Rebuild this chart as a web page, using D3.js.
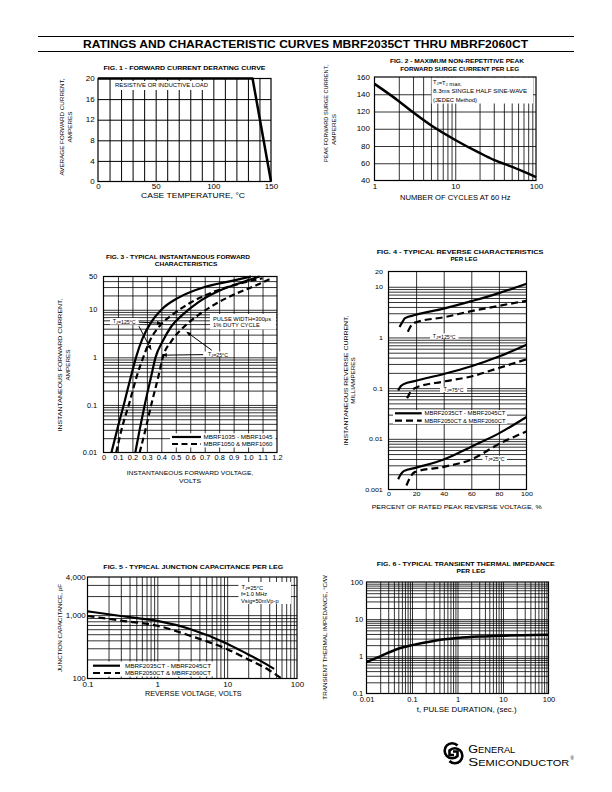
<!DOCTYPE html>
<html><head><meta charset="utf-8">
<script src="https://cdn.jsdelivr.net/npm/d3@7/dist/d3.min.js"></script>
<style>
body{margin:0;background:#fff}
svg{display:block}
text{font-family:'Liberation Sans',Arial,Helvetica,sans-serif;fill:#000}
</style>
</head><body>
<svg id="c" width="612" height="792"></svg>
<script>
// ================= DATA =================
const pageTitle = "RATINGS AND CHARACTERISTIC CURVES MBRF2035CT THRU MBRF2060CT";

// Fig 1 - forward current derating
const fig1Temp = [0, 134, 150];
const fig1Current = [20, 20, 0];
const fig1XTicks = [0, 50, 100, 150];
const fig1YTicks = [0, 4, 8, 12, 16, 20];
const fig1XGrid = [10, 20, 30, 40, 50, 60, 70, 80, 90, 100, 110, 120, 130, 140];

// Fig 2 - surge current
const fig2Cycles = [1, 2, 3, 5, 10, 20, 30, 50, 100];
const fig2Amps = [152, 132, 119, 104, 87, 72, 64, 56, 44];
const fig2XTicks = [1, 10, 100];
const fig2YTicks = [40, 60, 80, 100, 120, 140, 160];

// Fig 3 - forward characteristics (volts, amps)
const fig3V125Solid = [0.055, 0.10, 0.14, 0.19, 0.225, 0.27, 0.33, 0.40, 0.52, 0.70, 0.88, 1.02];
const fig3I125Solid = [0.01, 0.035, 0.1, 0.4, 1, 2.5, 5.5, 10, 18, 30, 40, 50];
const fig3V125Dash  = [0.088, 0.13, 0.175, 0.23, 0.275, 0.32, 0.40, 0.48, 0.60, 0.78, 0.95, 1.10];
const fig3I125Dash  = [0.01, 0.035, 0.1, 0.4, 1, 2.2, 5, 8, 14, 25, 36, 46];
const fig3V25Solid  = [0.22, 0.25, 0.285, 0.33, 0.36, 0.41, 0.47, 0.55, 0.65, 0.80, 0.96, 1.08];
const fig3I25Solid  = [0.01, 0.03, 0.1, 0.4, 1, 2.2, 4.5, 8, 14, 25, 38, 50];
const fig3V25Dash   = [0.25, 0.29, 0.33, 0.38, 0.41, 0.47, 0.55, 0.65, 0.77, 0.92, 1.06, 1.15];
const fig3I25Dash   = [0.01, 0.03, 0.1, 0.4, 1, 2.2, 4.2, 7.5, 13, 22, 33, 44];
const fig3XTicks = [0, 0.1, 0.2, 0.3, 0.4, 0.5, 0.6, 0.7, 0.8, 0.9, 1.0, 1.1, 1.2];
const fig3YTicks = [0.01, 0.1, 1, 10, 50];

// Fig 4 - reverse characteristics (% rated voltage, mA)
const fig4P125Solid = [8, 10, 12, 20, 40, 60, 80, 100];
const fig4I125Solid = [1.6, 2.0, 2.4, 2.8, 3.7, 5.2, 7.5, 11.5];
const fig4P125Dash  = [14, 17, 20, 40, 60, 80, 100];
const fig4I125Dash  = [1.3, 1.8, 2.0, 2.5, 3.3, 4.2, 5.3];
const fig4P75Solid  = [7, 9, 11, 20, 40, 60, 80, 100];
const fig4I75Solid  = [0.09, 0.11, 0.12, 0.14, 0.19, 0.27, 0.42, 0.72];
const fig4P75Dash   = [13.5, 16, 19, 40, 60, 80, 100];
const fig4I75Dash   = [0.063, 0.085, 0.1, 0.135, 0.17, 0.25, 0.37];
const fig4P25Solid  = [7, 9, 11, 20, 40, 60, 80, 100];
const fig4I25Solid  = [0.0016, 0.002, 0.0023, 0.0027, 0.0039, 0.007, 0.0128, 0.027];
const fig4P25Dash   = [13, 16, 19, 40, 60, 80, 100];
const fig4I25Dash   = [0.0012, 0.0018, 0.0022, 0.0028, 0.0039, 0.0079, 0.014];
const fig4XTicks = [0, 20, 40, 60, 80, 100];
const fig4YTicks = [0.001, 0.01, 0.1, 1, 10, 20];

// Fig 5 - junction capacitance (V, pF)
const fig5VSolid = [0.1, 0.3, 1, 3, 10, 20, 30, 47];
const fig5CSolid = [1150, 970, 810, 600, 355, 240, 190, 142];
const fig5VDash  = [0.1, 0.3, 1, 3, 10, 20, 40, 60];
const fig5CDash  = [970, 820, 680, 470, 290, 200, 135, 100];
const fig5XTicks = [0.1, 1, 10, 100];
const fig5YTicks = [100, 1000, 4000];

// Fig 6 - transient thermal impedance (s, °C/W)
const fig6Time = [0.01, 0.02, 0.05, 0.1, 0.3, 1, 3, 10, 30, 100];
const fig6Z    = [0.7, 1.0, 1.6, 2.0, 2.6, 3.1, 3.4, 3.6, 3.7, 3.8];
const fig6XTicks = [0.01, 0.1, 1, 10, 100];
const fig6YTicks = [0.1, 1, 10, 100];

// ================= DRAWING =================
const svg = d3.select('#c');
const SX = 1.14;
const zip = (a, b) => a.map((v, i) => [v, b[i]]);

function T(parent, x, y, parts, o = {}) {
  const size = o.size ?? 6;
  const t = parent.append('text')
    .attr('font-size', size)
    .attr('font-weight', o.bold ? 'bold' : null)
    .attr('text-anchor', o.anchor ?? 'middle')
    .attr('dy', '0.35em');
  if (typeof parts === 'string') t.text(parts);
  else parts.forEach(p => {
    if (typeof p === 'string') t.append('tspan').text(p);
    else { t.append('tspan').attr('font-size', size * 0.72).attr('dy', size * 0.22).text(p.sub);
           t.append('tspan').attr('dy', -size * 0.22).text(''); }
  });
  let tr = `translate(${x},${y})` + (o.rot ? ` rotate(${o.rot})` : '');
  if (o.w) t.attr('textLength', o.w).attr('lengthAdjust', 'spacingAndGlyphs');
  else tr += ` scale(${o.sx ?? SX},1)`;
  t.attr('transform', tr);
  return t;
}

function whiteBox(parent, x0, y0, x1, y1) {
  parent.append('rect').attr('x', x0).attr('y', y0).attr('width', x1 - x0).attr('height', y1 - y0).attr('fill', '#fff');
}

function panel(L, xs, ys, opt) {
  const g = svg.append('g');
  const styleGrid = s => { s.select('.domain').remove(); s.selectAll('line').attr('stroke', '#000').attr('stroke-width', opt.gw ?? 0.8); };
  g.append('g').attr('transform', `translate(0,${L.b})`)
    .call(d3.axisBottom(xs).tickValues(opt.xGrid).tickSize(-(L.b - L.t)).tickFormat(''))
    .call(styleGrid);
  g.append('g').attr('transform', `translate(${L.l},0)`)
    .call(d3.axisLeft(ys).tickValues(opt.yGrid).tickSize(-(L.r - L.l)).tickFormat(''))
    .call(styleGrid);
  const ann = g.append('g');
  const marks = g.append('g');
  g.append('rect').attr('x', L.l).attr('y', L.t).attr('width', L.r - L.l).attr('height', L.b - L.t)
    .attr('fill', 'none').attr('stroke', '#000').attr('stroke-width', 1.2);
  const styleLab = s => {
    s.select('.domain').remove();
    s.attr('font-family', null).attr('font-size', opt.fs ?? 7);
    s.selectAll('text').attr('transform', `scale(${SX},1)`).attr('fill', '#000');
  };
  g.append('g').attr('transform', `translate(0,${L.b})`)
    .call(d3.axisBottom(xs).tickValues(opt.xTicks).tickSize(0).tickPadding(opt.xPad ?? 3).tickFormat(opt.xFmt))
    .call(styleLab);
  g.append('g').attr('transform', `translate(${L.l},0)`)
    .call(d3.axisLeft(ys).tickValues(opt.yTicks).tickSize(0).tickPadding(opt.yPad ?? 3).tickFormat(opt.yFmt))
    .call(styleLab);
  const top = g.append('g');
  return { g, ann, marks, top };
}

function curve(sel, xs, ys, pts, o = {}) {
  sel.append('path')
    .attr('d', d3.line().x(d => xs(d[0])).y(d => ys(d[1])).curve(o.curve ?? d3.curveMonotoneX)(pts))
    .attr('fill', 'none').attr('stroke', '#000')
    .attr('stroke-width', o.w ?? 2.2)
    .attr('stroke-dasharray', o.dash ?? null)
    .attr('stroke-linejoin', 'round');
}

// arrow marker
svg.append('defs').append('marker').attr('id', 'ah').attr('viewBox', '0 0 10 10')
  .attr('refX', 9).attr('refY', 5).attr('markerWidth', 5).attr('markerHeight', 5)
  .attr('markerUnits', 'userSpaceOnUse').attr('orient', 'auto')
  .append('path').attr('d', 'M0,1 L10,5 L0,9 z').attr('fill', '#000');

// ---------- page header ----------
svg.append('line').attr('x1', 38).attr('x2', 574).attr('y1', 36.5).attr('y2', 36.5).attr('stroke', '#000').attr('stroke-width', 1.2);
svg.append('line').attr('x1', 38).attr('x2', 574).attr('y1', 51.5).attr('y2', 51.5).attr('stroke', '#000').attr('stroke-width', 1.2);
T(svg, 305.5, 44, pageTitle, { size: 10.5, bold: true, w: 445 });

const fmtDefault = d3.format('');
const fmtTrim = d => String(+d.toFixed(4));

// ---------- FIG 1 ----------
{
  const L = { l: 98, r: 271, t: 78.5, b: 181.5 };
  const xs = d3.scaleLinear().domain([0, 150]).range([L.l, L.r]);
  const ys = d3.scaleLinear().domain([0, 20]).range([L.b, L.t]);
  const p = panel(L, xs, ys, { xGrid: fig1XGrid, yGrid: fig1YTicks.slice(1, -1), xTicks: fig1XTicks, yTicks: fig1YTicks,
    xFmt: fmtDefault, yFmt: fmtDefault, fs: 7, xPad: 3, yPad: 3, gw: 1 });
  whiteBox(p.ann, 113, 81, 210, 90);
  T(p.ann, 161.5, 85.5, 'RESISTIVE OR INDUCTIVE LOAD', { size: 5.3, w: 93 });
  curve(p.top, xs, ys, zip(fig1Temp, fig1Current), { curve: d3.curveLinear, w: 2.5 });
  T(svg, 184.5, 68, 'FIG. 1 - FORWARD CURRENT DERATING CURVE', { size: 6, bold: true, w: 162 });
  T(svg, 193, 196, 'CASE TEMPERATURE, °C', { size: 6.3, w: 104 });
  T(svg, 62, 127, 'AVERAGE FORWARD CURRENT,', { size: 6, rot: -90, w: 97 });
  T(svg, 70, 127, 'AMPERES', { size: 6, rot: -90, sx: 1.05 });
}

// ---------- FIG 2 ----------
{
  const L = { l: 374.5, r: 536, t: 77, b: 180.5 };
  const xs = d3.scaleLog().domain([1, 100]).range([L.l, L.r]);
  const ys = d3.scaleLinear().domain([40, 160]).range([L.b, L.t]);
  const xg = xs.ticks().filter(v => v > 1 && v < 100);
  const p = panel(L, xs, ys, { xGrid: xg, yGrid: fig2YTicks.slice(1, -1), xTicks: fig2XTicks, yTicks: fig2YTicks,
    xFmt: fmtDefault, yFmt: fmtDefault, fs: 7, xPad: 4, yPad: 4 });
  whiteBox(p.ann, 431.5, 77.5, 533, 103.5);
  T(p.ann, 433, 82, ['T', { sub: 'J' }, '=T', { sub: 'J' }, ' max.'], { size: 5.3, anchor: 'start', sx: 1.1 });
  T(p.ann, 433, 91.3, '8.3ms SINGLE HALF SINE-WAVE', { size: 5.3, anchor: 'start', w: 94 });
  T(p.ann, 433, 99.7, '(JEDEC Method)', { size: 5.3, anchor: 'start', sx: 1.1 });
  curve(p.marks, xs, ys, zip(fig2Cycles, fig2Amps), { w: 2.5 });
  T(svg, 457, 61.3, 'FIG. 2 - MAXIMUM NON-REPETITIVE PEAK', { size: 6, bold: true, w: 134 });
  T(svg, 459.7, 68.7, 'FORWARD SURGE CURRENT PER LEG', { size: 6, bold: true, w: 119 });
  T(svg, 455.3, 198, 'NUMBER OF CYCLES AT 60 Hz', { size: 6.3, w: 110.7 });
  T(svg, 326, 113.5, 'PEAK FORWARD SURGE CURRENT,', { size: 6, rot: -90, w: 97 });
  T(svg, 334, 129.5, 'AMPERES', { size: 6, rot: -90, sx: 1.05 });
}

// ---------- FIG 3 ----------
{
  const L = { l: 103.5, r: 277, t: 276.5, b: 452.5 };
  const xs = d3.scaleLinear().domain([0, 1.2]).range([L.l, L.r]);
  const ys = d3.scaleLog().domain([0.01, 50]).range([L.b, L.t]);
  const yg = ys.ticks().filter(v => v > 0.01 && v < 50);
  const p = panel(L, xs, ys, { xGrid: fig3XTicks.slice(1, -1), yGrid: yg, xTicks: fig3XTicks, yTicks: fig3YTicks,
    xFmt: d => d === 0 ? '0' : d3.format('.1f')(d), yFmt: fmtTrim, fs: 6.5, xPad: 3, yPad: 5.5 });
  // annotation boxes
  whiteBox(p.top, 210, 314, 276, 329.5);
  T(p.top, 213, 318.7, 'PULSE WIDTH=300μs', { size: 5.2, anchor: 'start', w: 58 });
  T(p.top, 213, 325.5, '1% DUTY CYCLE', { size: 5.2, anchor: 'start', sx: 1.12 });
  whiteBox(p.top, 110, 318, 138.5, 324.5);
  T(p.top, 124.2, 321.3, ['T', { sub: 'J' }, '=125°C'], { size: 5, sx: 1.05 });
  whiteBox(p.top, 203.5, 351.5, 233, 357);
  T(p.top, 218, 354.2, ['T', { sub: 'J' }, '=25°C'], { size: 5, sx: 1.05 });
  whiteBox(p.top, 170, 433.3, 275.5, 447.5);
  p.top.append('line').attr('x1', 172).attr('x2', 201).attr('y1', 437).attr('y2', 437).attr('stroke', '#000').attr('stroke-width', 2.2);
  p.top.append('line').attr('x1', 172).attr('x2', 201).attr('y1', 444).attr('y2', 444).attr('stroke', '#000').attr('stroke-width', 2.2).attr('stroke-dasharray', '6,3.5');
  T(p.top, 203.5, 437, 'MBRF1035 - MBRF1045', { size: 5.2, anchor: 'start', w: 69 });
  T(p.top, 203.5, 444, 'MBRF1050 & MBRF1060', { size: 5.2, anchor: 'start', w: 69 });
  // curves
  curve(p.marks, xs, ys, zip(fig3V125Solid, fig3I125Solid));
  curve(p.marks, xs, ys, zip(fig3V125Dash, fig3I125Dash), { dash: '6,3.5' });
  curve(p.marks, xs, ys, zip(fig3V25Solid, fig3I25Solid));
  curve(p.marks, xs, ys, zip(fig3V25Dash, fig3I25Dash), { dash: '6,3.5' });
  // arrows (data units)
  const arrows = [[[0.245, 5.5], [0.40, 5.2]], [[0.245, 4.5], [0.329, 1.46]], [[0.689, 1.14], [0.407, 1.11]], [[0.749, 1.41], [0.576, 3.4]]];
  arrows.forEach(([a, b]) => p.top.append('line').attr('x1', xs(a[0])).attr('y1', ys(a[1])).attr('x2', xs(b[0])).attr('y2', ys(b[1]))
    .attr('stroke', '#000').attr('stroke-width', 1).attr('marker-end', 'url(#ah)'));
  T(svg, 178, 257.3, 'FIG. 3 - TYPICAL INSTANTANEOUS FORWARD', { size: 6, bold: true, w: 144 });
  T(svg, 186, 264, 'CHARACTERISTICS', { size: 6, bold: true, w: 62.7 });
  T(svg, 190, 472.7, 'INSTANTANEOUS FORWARD VOLTAGE,', { size: 6, w: 126.7 });
  T(svg, 190, 480.5, 'VOLTS', { size: 6, sx: 1.14 });
  T(svg, 60, 365, 'INSTANTANEOUS FORWARD CURRENT,', { size: 6, rot: -90, w: 133 });
  T(svg, 68, 365, 'AMPERES', { size: 6, rot: -90, sx: 1.05 });
}

// ---------- FIG 4 ----------
{
  const L = { l: 388.5, r: 526.5, t: 271.5, b: 489.5 };
  const xs = d3.scaleLinear().domain([0, 100]).range([L.l, L.r]);
  const ys = d3.scaleLog().domain([0.001, 20]).range([L.b, L.t]);
  const yg = ys.ticks().filter(v => v > 0.001 && v < 20);
  const p = panel(L, xs, ys, { xGrid: fig4XTicks.slice(1, -1), yGrid: yg, xTicks: fig4XTicks, yTicks: fig4YTicks,
    xFmt: fmtDefault, yFmt: fmtTrim, fs: 6.2, xPad: 2.5, yPad: 5 });
  whiteBox(p.ann, 430, 333.3, 458.5, 339);
  T(p.ann, 444.2, 336.2, ['T', { sub: 'J' }, '=125°C'], { size: 5, sx: 1.05 });
  whiteBox(p.ann, 440, 386.7, 467, 392);
  T(p.ann, 453.5, 389.3, ['T', { sub: 'J' }, '=75°C'], { size: 5, sx: 1.05 });
  whiteBox(p.ann, 482.5, 455.7, 507, 461);
  T(p.ann, 494.7, 458.3, ['T', { sub: 'J' }, '=25°C'], { size: 5, sx: 1.05 });
  whiteBox(p.ann, 393, 410, 507, 424);
  p.ann.append('line').attr('x1', 395).attr('x2', 421.7).attr('y1', 413.3).attr('y2', 413.3).attr('stroke', '#000').attr('stroke-width', 2.2);
  p.ann.append('line').attr('x1', 395).attr('x2', 421.7).attr('y1', 420.7).attr('y2', 420.7).attr('stroke', '#000').attr('stroke-width', 2.2).attr('stroke-dasharray', '7,4');
  T(p.ann, 424.5, 413.3, 'MBRF2035CT - MBRF2045CT', { size: 5.2, anchor: 'start', w: 81 });
  T(p.ann, 424.5, 420.7, 'MBRF2050CT & MBRF2060CT', { size: 5.2, anchor: 'start', w: 81 });
  curve(p.marks, xs, ys, zip(fig4P125Solid, fig4I125Solid));
  curve(p.marks, xs, ys, zip(fig4P125Dash, fig4I125Dash), { dash: '7,4' });
  curve(p.marks, xs, ys, zip(fig4P75Solid, fig4I75Solid));
  curve(p.marks, xs, ys, zip(fig4P75Dash, fig4I75Dash), { dash: '7,4' });
  curve(p.marks, xs, ys, zip(fig4P25Solid, fig4I25Solid));
  curve(p.marks, xs, ys, zip(fig4P25Dash, fig4I25Dash), { dash: '7,4' });
  T(svg, 460, 252.3, 'FIG. 4 - TYPICAL REVERSE CHARACTERISTICS', { size: 6, bold: true, w: 166.7 });
  T(svg, 464, 259, 'PER LEG', { size: 6, bold: true, w: 27 });
  T(svg, 456.7, 506.7, 'PERCENT OF RATED PEAK REVERSE VOLTAGE, %', { size: 6, w: 170 });
  T(svg, 345.5, 380.5, 'INSTANTANEOUS REVERSE CURRENT,', { size: 6, rot: -90, w: 130 });
  T(svg, 353, 380.5, 'MILLIAMPERES', { size: 6, rot: -90, sx: 1.05 });
}

// ---------- FIG 5 ----------
{
  const L = { l: 87.5, r: 297, t: 577, b: 678.5 };
  const xs = d3.scaleLog().domain([0.1, 100]).range([L.l, L.r]);
  const ys = d3.scaleLog().domain([100, 4000]).range([L.b, L.t]);
  const xg = xs.ticks().filter(v => v > 0.1 && v < 100);
  const yg = ys.ticks().filter(v => v > 100 && v < 4000);
  const p = panel(L, xs, ys, { xGrid: xg, yGrid: yg, xTicks: fig5XTicks, yTicks: fig5YTicks,
    xFmt: fmtTrim, yFmt: d3.format(','), fs: 7, xPad: 4, yPad: 1.5 });
  whiteBox(p.ann, 238.5, 582, 291, 604);
  T(p.ann, 241.5, 587.3, ['T', { sub: 'J' }, '=25°C'], { size: 5.2, anchor: 'start', sx: 1.1 });
  T(p.ann, 241, 594.2, 'f=1.0 MHz', { size: 5.2, anchor: 'start', sx: 1.1 });
  T(p.ann, 241, 600.7, 'Vsig=50mVp-p', { size: 5.2, anchor: 'start', sx: 1.1 });
  whiteBox(p.ann, 90, 661.5, 213, 676.5);
  p.ann.append('line').attr('x1', 93).attr('x2', 120).attr('y1', 665.7).attr('y2', 665.7).attr('stroke', '#000').attr('stroke-width', 2.2);
  p.ann.append('line').attr('x1', 93).attr('x2', 120).attr('y1', 673).attr('y2', 673).attr('stroke', '#000').attr('stroke-width', 2.2).attr('stroke-dasharray', '7,4');
  T(p.ann, 125, 665.7, 'MBRF2035CT - MBRF2045CT', { size: 5.2, anchor: 'start', w: 86 });
  T(p.ann, 125, 673, 'MBRF2050CT & MBRF2060CT', { size: 5.2, anchor: 'start', w: 86 });
  curve(p.marks, xs, ys, zip(fig5VSolid, fig5CSolid));
  curve(p.marks, xs, ys, zip(fig5VDash, fig5CDash), { dash: '7,4' });
  T(svg, 193.3, 567.3, 'FIG. 5 - TYPICAL JUNCTION CAPACITANCE PER LEG', { size: 6, bold: true, w: 180 });
  T(svg, 193.3, 694, 'REVERSE VOLTAGE, VOLTS', { size: 6.3, w: 96.7 });
  T(svg, 60, 628, 'JUNCTION CAPACITANCE, pF', { size: 6, rot: -90, sx: 1.05 });
}

// ---------- FIG 6 ----------
{
  const L = { l: 366.5, r: 548.5, t: 582, b: 693.5 };
  const xs = d3.scaleLog().domain([0.01, 100]).range([L.l, L.r]);
  const ys = d3.scaleLog().domain([0.1, 100]).range([L.b, L.t]);
  const xg = xs.ticks().filter(v => v > 0.01 && v < 100);
  const yg = ys.ticks().filter(v => v > 0.1 && v < 100);
  const p = panel(L, xs, ys, { xGrid: xg, yGrid: yg, xTicks: fig6XTicks, yTicks: fig6YTicks,
    xFmt: fmtTrim, yFmt: fmtTrim, fs: 6.6, xPad: 4, yPad: 3 });
  curve(p.marks, xs, ys, zip(fig6Time, fig6Z), { w: 2.5 });
  T(svg, 465.8, 563.7, 'FIG. 6 - TYPICAL TRANSIENT THERMAL IMPEDANCE', { size: 6, bold: true, w: 178 });
  T(svg, 471, 570.7, 'PER LEG', { size: 6, bold: true, w: 29 });
  T(svg, 466.7, 710, 't, PULSE DURATION, (sec.)', { size: 6.3, w: 100 });
  T(svg, 325, 637.5, 'TRANSIENT THERMAL IMPEDANCE, °C/W', { size: 6, rot: -90, sx: 1.05 });
}

// ---------- logo ----------
{
  const g = svg.append('g').attr('fill', 'none').attr('stroke', '#000').attr('stroke-width', 2.6).attr('stroke-linecap', 'butt');
  g.append('path').attr('d', 'M457.5,745.5 A7.5,7.5 0 1 0 457.5,756 L457.5,751.5 L453,751.5');
  g.append('path').attr('d', 'M449.5,761 A7.5,7.5 0 1 0 449.5,750.5 L449.5,755 L454,755');
  const st = { 'font-family': "'Liberation Serif','DejaVu Serif',serif" };
  const t1 = svg.append('text').attr('x', 468.3).attr('y', 752.5).attr('font-family', st['font-family']).attr('textLength', 47).attr('lengthAdjust', 'spacingAndGlyphs');
  t1.append('tspan').attr('font-size', 11.5).text('G');
  t1.append('tspan').attr('font-size', 8.5).text('ENERAL');
  const t2 = svg.append('text').attr('x', 468.3).attr('y', 766).attr('font-family', st['font-family']).attr('textLength', 101).attr('lengthAdjust', 'spacingAndGlyphs');
  t2.append('tspan').attr('font-size', 11.5).text('S');
  t2.append('tspan').attr('font-size', 8.5).text('EMICONDUCTOR');
  svg.append('text').attr('x', 570.5).attr('y', 760).attr('font-size', 4.5).attr('font-family', st['font-family']).text('®');
}
</script>
</body></html>
